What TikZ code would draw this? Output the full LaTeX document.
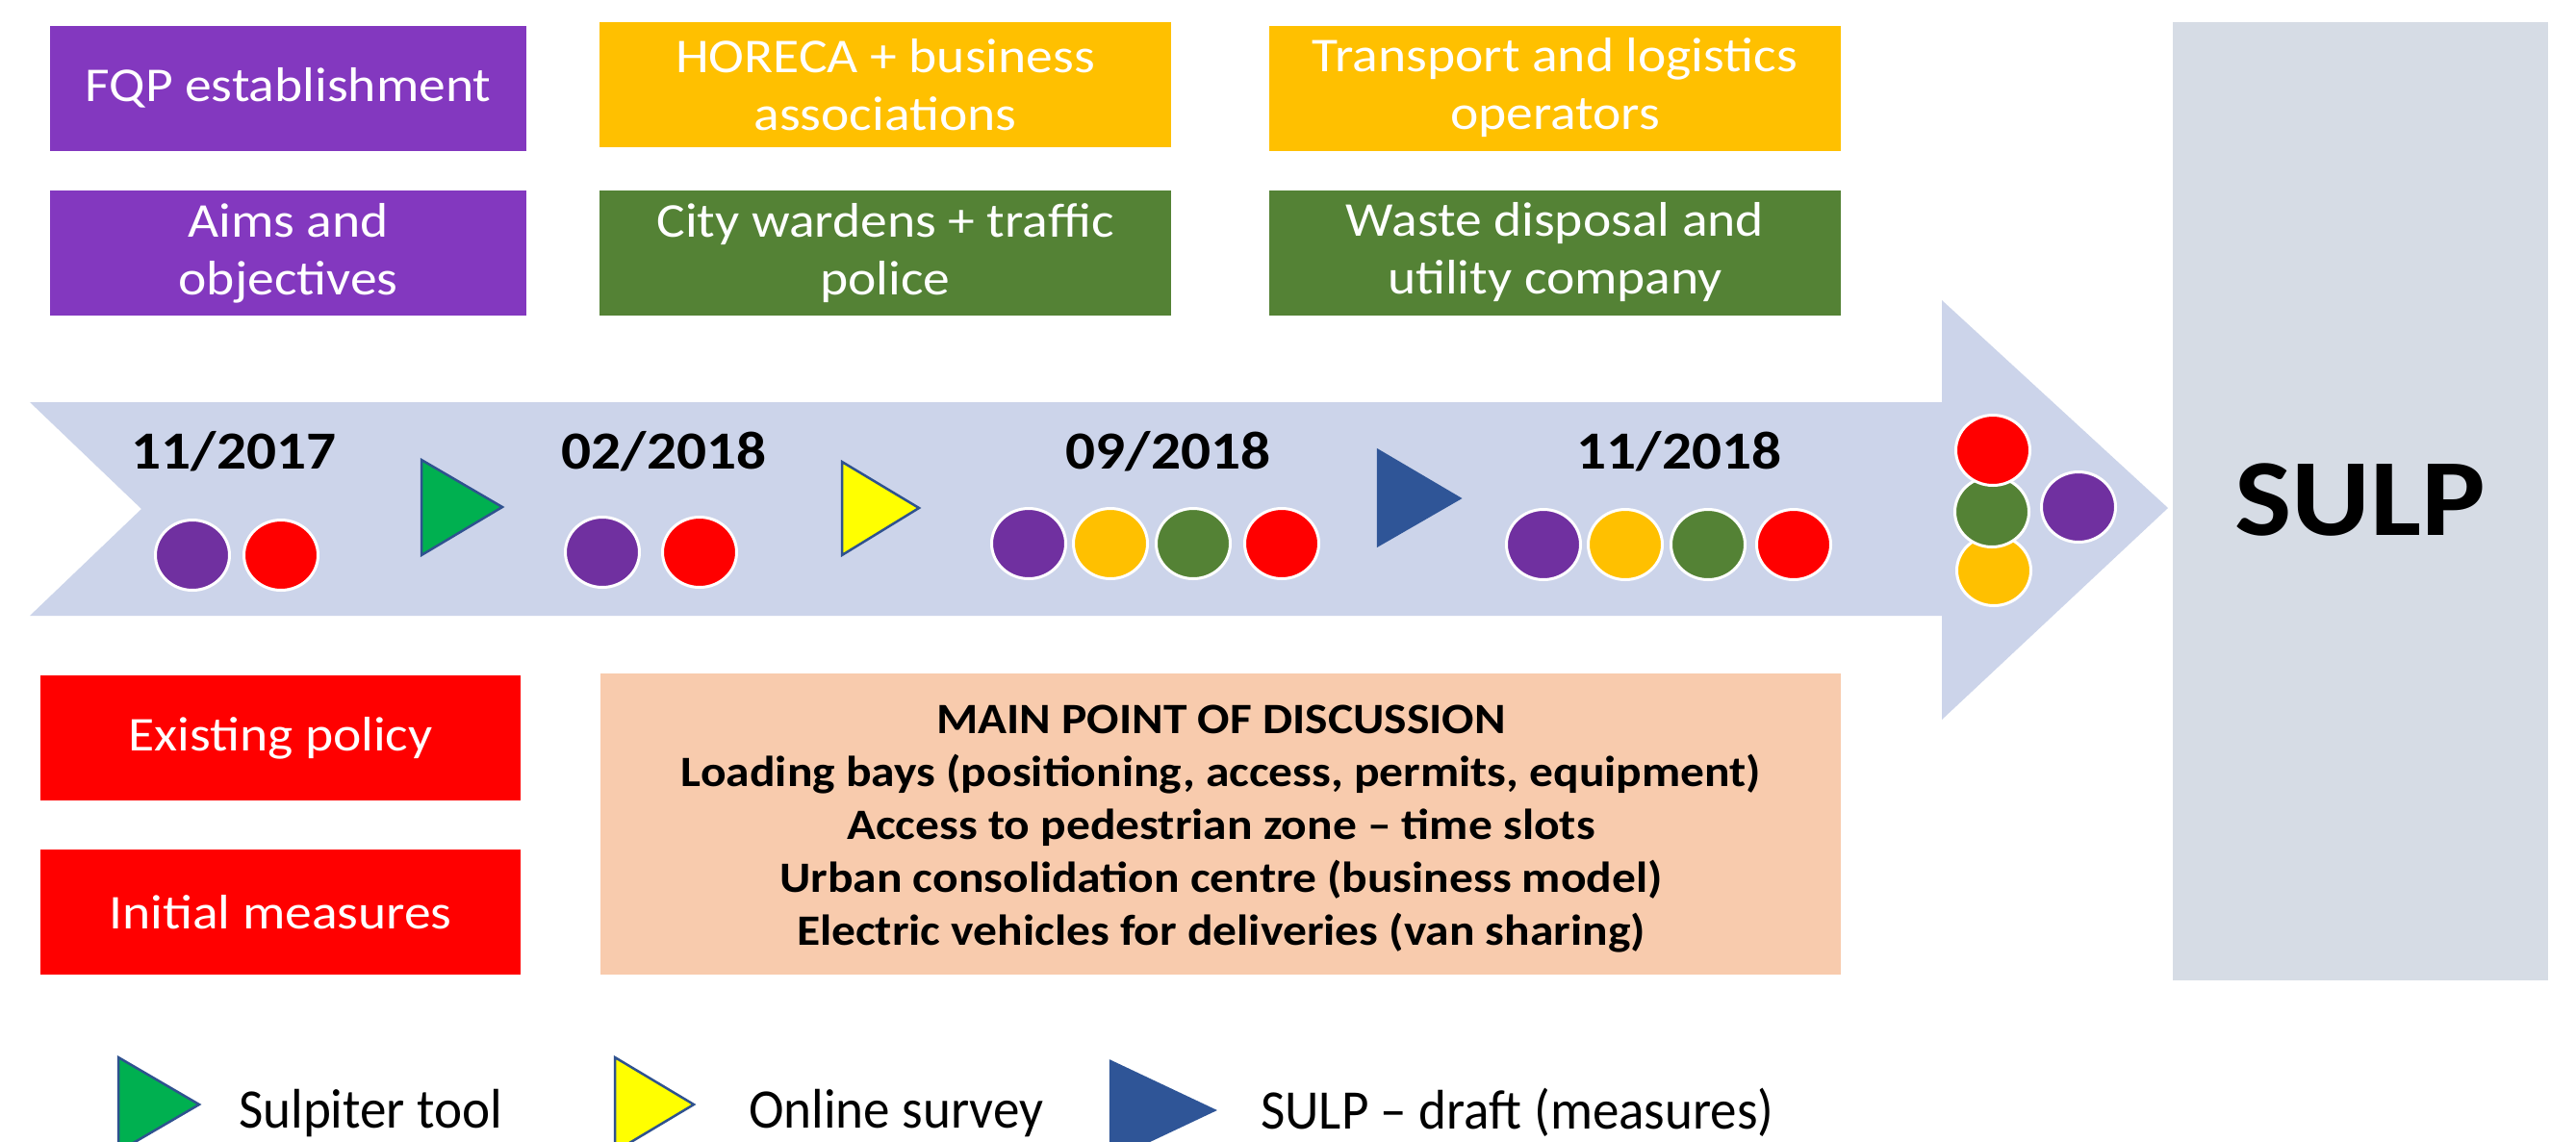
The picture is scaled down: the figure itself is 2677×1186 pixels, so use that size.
\documentclass[tikz,border=0pt]{standalone}
\usepackage{fontspec}
\setmainfont{Carlito}[FakeStretch=1.1]
\newfontfamily\legendfont{Carlito}[FakeStretch=0.95,Ligatures=TeX]
\definecolor{boxpurple}{HTML}{8338BF}
\definecolor{circpurple}{HTML}{7030A0}
\definecolor{amber}{HTML}{FFC000}
\definecolor{leaf}{HTML}{548235}
\definecolor{pureRed}{HTML}{FF0000}
\definecolor{peach}{HTML}{F8CBAD}
\definecolor{arrowfill}{HTML}{CCD4EA}
\definecolor{sulpgray}{HTML}{D6DCE5}
\definecolor{trigreen}{HTML}{00B050}
\definecolor{triyellow}{HTML}{FFFF00}
\definecolor{triblue}{HTML}{2F5597}
\definecolor{trioutline}{HTML}{2F528F}
\tikzset{
  box/.style={rectangle, inner sep=0pt, align=center, text=white,
    font=\fontsize{50.5bp}{60bp}\selectfont},
  topbox/.style={box, minimum width=594bp, minimum height=130bp},
  leftbox/.style={box, minimum width=495bp, minimum height=130bp},
  redbox/.style={box, fill=pureRed, minimum width=499bp, minimum height=130bp},
  datelabel/.style={anchor=base, inner sep=0pt, text=black,
    font=\fontsize{55.7bp}{66bp}\selectfont\bfseries},
  legendlabel/.style={anchor=base west, inner sep=0pt, text=black,
    font=\legendfont\fontsize{58bp}{70bp}\selectfont},
  dot/.style={draw=white, line width=3bp},
  tri/.style={draw=trioutline, line width=2.5bp, line join=miter},
}
\newcommand{\dotat}[3]{\filldraw[dot, fill=#1] (#2,#3) ellipse [x radius=38.5bp, y radius=36.5bp];}
\begin{document}
\begin{tikzpicture}[x=1bp, y=-1bp]
\useasboundingbox (0,0) rectangle (2677,1186);
\clip (0,0) rectangle (2677,1186);
\fill[white] (0,0) rectangle (2677,1186);

% top boxes
\node[leftbox, fill=boxpurple] (fqp) at (299.5,91.5) {FQP establishment};
\node[topbox, fill=amber] (horeca) at (920,88) {HORECA + business\\associations};
\node[topbox, fill=amber] (transport) at (1616,91.5) {Transport and logistics\\operators};
\node[leftbox, fill=boxpurple] (aims) at (299.5,263) {Aims and\\objectives};
\node[topbox, fill=leaf] (city) at (920,263) {City wardens + traffic\\police};
\node[topbox, fill=leaf] (waste) at (1616,262.5) {Waste disposal and\\utility company};

% SULP box
\node[rectangle, fill=sulpgray, minimum width=390bp, minimum height=996bp, inner sep=0pt] (sulpbox) at (2453,521) {};
\node[inner sep=0pt, font=\fontsize{114bp}{130bp}\selectfont\bfseries] (sulp) at (2453,519.5) {SULP};

% big arrow
\fill[arrowfill] (31,418) -- (2018,418) -- (2018,312) -- (2253,528) -- (2018,748)
  -- (2018,640) -- (31,640) -- (147,529) -- cycle;

% dates
\node[datelabel] (d1) at (243,487) {11/2017};
\node[datelabel] (d2) at (690,487) {02/2018};
\node[datelabel] (d3) at (1214,487) {09/2018};
\node[datelabel] (d4) at (1745,487) {11/2018};

% timeline triangles
\filldraw[tri, fill=trigreen] (438,478) -- (522,527) -- (438,577) -- cycle;
\filldraw[tri, fill=triyellow] (875,480) -- (955,528) -- (875,577) -- cycle;
\filldraw[tri, draw=triblue, fill=triblue] (1432,468) -- (1517,518) -- (1432,567) -- cycle;

% dots
\dotat{circpurple}{200}{577}
\dotat{pureRed}{292}{577}
\dotat{circpurple}{626}{574}
\dotat{pureRed}{727}{574}
\dotat{circpurple}{1069}{565}
\dotat{amber}{1154}{565}
\dotat{leaf}{1240}{565}
\dotat{pureRed}{1332}{565}
\dotat{circpurple}{1604}{566}
\dotat{amber}{1689}{566}
\dotat{leaf}{1775}{566}
\dotat{pureRed}{1864}{566}
\dotat{amber}{2072}{593}
\dotat{leaf}{2070}{532}
\dotat{pureRed}{2071}{468}
\dotat{circpurple}{2160}{527}

% bottom boxes
\node[redbox] (existing) at (291.5,767) {Existing policy};
\node[redbox] (initial) at (291.5,948) {Initial measures};
\node[rectangle, fill=peach, minimum width=1289bp, minimum height=313bp, inner sep=0pt] (mainbox) at (1268.5,856.5) {};
\node[align=center, inner sep=0pt, font=\fontsize{45bp}{55bp}\selectfont\bfseries] (maintext) at (1269,862)
  {MAIN POINT OF DISCUSSION\\
   Loading bays (positioning, access, permits, equipment)\\
   Access to pedestrian zone – time slots\\
   Urban consolidation centre (business model)\\
   Electric vehicles for deliveries (van sharing)};

% legend
\filldraw[tri, fill=trigreen] (123,1099) -- (207,1148) -- (123,1197) -- cycle;
\node[legendlabel] (lg1) at (248,1172) {Sulpiter tool};
\filldraw[tri, fill=triyellow] (639,1099) -- (721,1148) -- (639,1197) -- cycle;
\node[legendlabel] (lg2) at (778,1172) {Online survey};
\filldraw[tri, draw=triblue, fill=triblue] (1154,1103) -- (1262,1154) -- (1154,1205) -- cycle;
\node[legendlabel] (lg3) at (1310,1173) {SULP – draft (measures)};
\end{tikzpicture}
\end{document}
